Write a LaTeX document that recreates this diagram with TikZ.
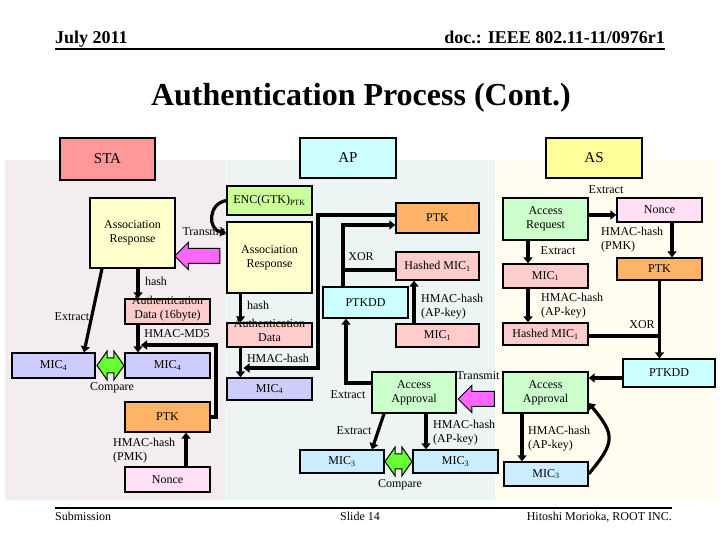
\documentclass[tikz,border=0pt]{standalone}
\usepackage{fontspec}
\setmainfont{Liberation Serif}
\usetikzlibrary{arrows.meta, shapes.arrows}
\definecolor{LaneSTA}{HTML}{F4EDF0}
\definecolor{LaneAP}{HTML}{EDF4F4}
\definecolor{LaneAS}{HTML}{FFFDF0}
\definecolor{HeadSTA}{HTML}{FF9999}
\definecolor{HeadAP}{HTML}{CCFFFF}
\definecolor{HeadAS}{HTML}{FFFF99}
\definecolor{MsgYellow}{HTML}{FFFFCC}
\definecolor{MsgGreen}{HTML}{CCFFCC}
\definecolor{EncGreen}{HTML}{CCFF99}
\definecolor{KeyOrange}{HTML}{FFB366}
\definecolor{MicPink}{HTML}{FFCCCC}
\definecolor{MicLilac}{HTML}{CCCCFF}
\definecolor{MicBlue}{HTML}{CCECFF}
\definecolor{NoncePink}{HTML}{FFE0F6}
\definecolor{TxMagenta}{HTML}{FF66FF}
\definecolor{CmpGreen}{HTML}{66FF33}
\tikzset{
  hbox/.style={draw, line width=1.3pt, inner sep=0pt, font=\fontsize{15}{18}\selectfont},
  box/.style={draw, line width=1.3pt, align=center, inner sep=0pt,
    font=\fontsize{12}{14}\selectfont},
  lbl/.style={inner sep=0pt, align=left, font=\fontsize{12}{14}\selectfont},
  wire/.style={line width=3.2pt},
  flow/.style={wire, -{Triangle[length=6pt, width=9pt]}},
  txarrow/.style={single arrow, draw, line width=1pt, fill=TxMagenta,
    shape border rotate=180, inner sep=0pt, text height=14pt, text depth=0pt,
    single arrow head extend=6pt},
  cmparrow/.style={double arrow, draw, line width=1pt, fill=CmpGreen,
    inner sep=0pt, text height=14pt, text depth=0pt, double arrow head extend=7pt,
    double arrow tip angle=110, minimum height=27pt},
}

\begin{document}
\begin{tikzpicture}[x=1pt, y=1pt]
    \useasboundingbox (0,0) rectangle (720,540);
    \fill[LaneSTA] (5,40) rectangle (225,380);
    \fill[LaneAP] (225,40) rectangle (495,380);
    \fill[LaneAS] (495,40) rectangle (715,380);

    \node[anchor=base west, inner sep=0pt, font=\bfseries\fontsize{18}{20}\selectfont] (date) at (55,496) {July 2011};
    \node[anchor=base east, inner sep=0pt, font=\bfseries\fontsize{18}{20}\selectfont] (doc) at (665,496) {doc.: IEEE 802.11-11/0976r1};
    \draw[line width=2pt] (55,491) -- (665,491);
    \node[font=\bfseries\fontsize{32}{36}\selectfont] (title) at (361,442) {Authentication Process (Cont.)};

    \node[hbox, fill=HeadSTA, minimum width=95pt, minimum height=42pt] (sta) at (107.5,381) {STA};
    \node[hbox, fill=HeadAP, minimum width=96pt, minimum height=40pt] (ap) at (348,382) {AP};
    \node[hbox, fill=HeadAS, minimum width=96pt, minimum height=40pt] (as) at (594,382) {AS};

    % STA
    \node[box, fill=MsgYellow, minimum width=85pt, minimum height=70pt] (staresp) at (132.5,307) {Association\\Response};
    \node[lbl] (statxl) at (204,308) {Transmit};
    \node[txarrow, minimum height=45pt] (statx) at (201,284) {};
    \node[box, fill=MicPink, minimum width=85pt, minimum height=25pt] (stadata) at (167.5,228.5)
      {\smash{\begin{tabular}{@{}c@{}}Authentication\\Data (16byte)\end{tabular}}};
    \node[box, fill=MicLilac, minimum width=85pt, minimum height=25pt] (stamic) at (167.5,174.5) {MIC\textsubscript{4}};
    \node[box, fill=MicLilac, minimum width=83pt, minimum height=25pt] (stamicx) at (53.5,174.5) {MIC\textsubscript{4}};
    \node[cmparrow] (stacmp) at (110.5,174.5) {};
    \node[box, fill=KeyOrange, minimum width=85pt, minimum height=30pt] (staptk) at (167.5,123) {PTK};
    \node[box, fill=NoncePink, minimum width=85pt, minimum height=25pt] (stanonce) at (167.5,60.5) {Nonce};
    \node[lbl] (stahash) at (156,259) {hash};
    \node[lbl] (staext) at (72,223) {Extract};
    \node[lbl] (stamd5) at (177,206) {HMAC-MD5};
    \node[lbl] (stacmpl) at (112,152) {Compare};
    \node[lbl, anchor=west] (stapmk) at (113,89) {HMAC-hash\\(PMK)};

    % AP
    \node[box, fill=EncGreen, minimum width=85pt, minimum height=29pt] (apenc) at (269.5,339.5) {ENC(GTK)\textsubscript{PTK}};
    \node[box, fill=MsgYellow, minimum width=85pt, minimum height=71pt] (apresp) at (269.5,282.5) {Association\\Response};
    \node[box, fill=MicPink, minimum width=85pt, minimum height=24pt] (apdata) at (269.5,205)
      {\smash{\begin{tabular}{@{}c@{}}Authentication\\Data\end{tabular}}};
    \node[box, fill=MicLilac, minimum width=85pt, minimum height=22pt] (apmic) at (269.5,151) {MIC\textsubscript{4}};
    \node[box, fill=KeyOrange, minimum width=83pt, minimum height=30pt] (apptk) at (437.5,322) {PTK};
    \node[box, fill=MicPink, minimum width=83pt, minimum height=28pt] (aphmic) at (437.5,274) {Hashed MIC\textsubscript{1}};
    \node[box, fill=HeadAP, minimum width=85pt, minimum height=31pt] (apptkdd) at (365.5,237.5) {PTKDD};
    \node[box, fill=MicPink, minimum width=83pt, minimum height=23pt] (apmic1) at (437.5,204.5) {MIC\textsubscript{1}};
    \node[box, fill=MsgGreen, minimum width=84pt, minimum height=41pt] (apok) at (414,147.5) {Access\\Approval};
    \node[box, fill=MicBlue, minimum width=84pt, minimum height=23pt] (apmic3x) at (342,78.5) {MIC\textsubscript{3}};
    \node[box, fill=MicBlue, minimum width=85pt, minimum height=23pt] (apmic3) at (455.5,78.5) {MIC\textsubscript{3}};
    \node[cmparrow] (apcmp) at (398.5,78.5) {};
    \node[txarrow, minimum height=36pt] (aptx) at (480,141) {};
    \node[lbl] (aptxl) at (478,164) {Transmit};
    \node[lbl] (aphash) at (258,235) {hash};
    \node[lbl] (aphmac) at (278,182) {HMAC-hash};
    \node[lbl] (apxor) at (361,283) {XOR};
    \node[lbl, anchor=west] (apkey) at (421,233) {HMAC-hash\\(AP-key)};
    \node[lbl] (apext) at (348,145) {Extract};
    \node[lbl] (apextm) at (354,109) {Extract};
    \node[lbl, anchor=west] (apkeym) at (433,107) {HMAC-hash\\(AP-key)};
    \node[lbl] (apcmpl) at (400,55) {Compare};

    % AS
    \node[box, fill=MsgGreen, minimum width=85pt, minimum height=42pt] (asreq) at (545.5,321) {Access\\Request};
    \node[box, fill=NoncePink, minimum width=85pt, minimum height=24pt] (asnonce) at (659.5,330) {Nonce};
    \node[box, fill=KeyOrange, minimum width=85pt, minimum height=22pt] (asptk) at (659.5,271) {PTK};
    \node[box, fill=MicPink, minimum width=85pt, minimum height=24pt] (asmic1) at (545.5,264) {MIC\textsubscript{1}};
    \node[box, fill=MicPink, minimum width=85pt, minimum height=22pt] (ashmic) at (545.5,206) {Hashed MIC\textsubscript{1}};
    \node[box, fill=HeadAP, minimum width=92pt, minimum height=28pt] (asptkdd) at (669,167) {PTKDD};
    \node[box, fill=MsgGreen, minimum width=85pt, minimum height=41pt] (asok) at (545.5,147.5) {Access\\Approval};
    \node[box, fill=MicBlue, minimum width=84pt, minimum height=24pt] (asmic3) at (546,66) {MIC\textsubscript{3}};
    \node[lbl] (asextn) at (606,350) {Extract};
    \node[lbl] (asext) at (558,289) {Extract};
    \node[lbl, anchor=west] (aspmk) at (601,300) {HMAC-hash\\(PMK)};
    \node[lbl, anchor=west] (askey) at (541,234) {HMAC-hash\\(AP-key)};
    \node[lbl] (asxor) at (642,215) {XOR};
    \node[lbl, anchor=west] (askeym) at (528,101) {HMAC-hash\\(AP-key)};

    \node[lbl, anchor=base west] (sub) at (55,19) {Submission};
    \node[lbl, anchor=base] (slide) at (360,19) {Slide 14};
    \node[lbl, anchor=base east] (author) at (672,19) {Hitoshi Morioka, ROOT INC.};
    \draw[line width=1.6pt] (55,32) -- (672,32);

    \draw[flow] ([xshift=-30.5]staresp.south) -- ([xshift=30.5]stamicx.north);
    \draw[flow] ([xshift=5.5]staresp.south) -- ([xshift=-29.5]stadata.north);
    \draw[flow] ([xshift=-29.5]stadata.south) -- ([xshift=-29.5]stamic.north);
    \coordinate (stajoin) at (141,195);
    \draw[flow] (staptk.east) -| (216,195) -- (stajoin);
    \draw[flow] ([xshift=18.5]stanonce.north) -- ([xshift=18.5]staptk.south);

    \draw[flow] (apenc.west) to[out=190, in=170, looseness=1.5] ([yshift=24.5]apresp.west);
    \draw[flow] ([xshift=-29]apresp.south) -- ([xshift=-29]apdata.north);
    \draw[flow] ([xshift=-29]apdata.south) -- ([xshift=-29]apmic.north);
    \coordinate (apjoin) at (243.5,172);
    \draw[flow] ([yshift=3]apptk.west) -| (318,172) -- (apjoin);
    \draw[flow] ([xshift=-22.5]apptkdd.north) |- ([yshift=-7]apptk.west);
    \draw[wire] ([yshift=-4]aphmic.west) -- ++(-54.6,0);
    \draw[flow] ([xshift=-23.5]apmic1.north) -- ([xshift=-23.5]aphmic.south);
    \draw[flow] ([yshift=9.5]apok.west) -| ([xshift=-19.5]apptkdd.south);
    \draw[flow] ([xshift=-30]apok.south) -- ([xshift=30]apmic3x.north);
    \draw[flow] ([xshift=12]apok.south) -- ([xshift=-29.5]apmic3.north);

    \draw[flow] ([yshift=4]asreq.east) -- ([yshift=-5]asnonce.west);
    \draw[flow] ([xshift=12.5]asnonce.south) -- ([xshift=12.5]asptk.north);
    \draw[flow] ([xshift=-17.5]asreq.south) -- ([xshift=-17.5]asmic1.north);
    \draw[flow] ([xshift=-17.5]asmic1.south) -- ([xshift=-17.5]ashmic.north);
    \draw[flow] (asptk.south) -- (asptk.south |- asptkdd.north);
    \draw[wire] ([yshift=-2]ashmic.east) -- ([yshift=-2]ashmic.east -| asptk.south);
    \draw[flow] ([yshift=-5]asptkdd.west) -- ([yshift=-5]asptkdd.west -| asok.east);
    \draw[flow] ([xshift=-23.5]asok.south) -- ([xshift=-23.5]asok.south |- asmic3.north);
    \draw[flow] (asmic3.east) to[out=50, in=-50, looseness=1.5] ([yshift=-10.5]asok.east);
\end{tikzpicture}
\end{document}
